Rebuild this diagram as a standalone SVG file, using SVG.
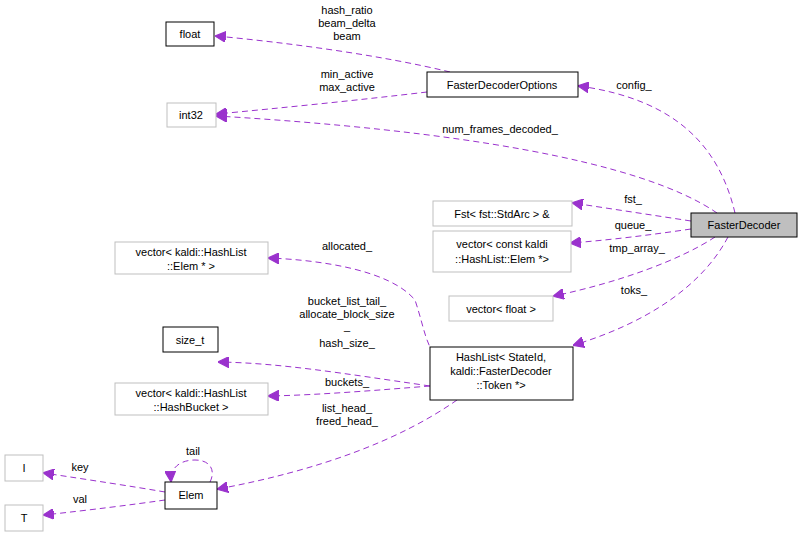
<svg xmlns="http://www.w3.org/2000/svg" width="799" height="536" viewBox="0 0 799 536">
<style>
text{font-family:"Liberation Sans",Arial,sans-serif;font-size:11px;fill:#000;text-anchor:middle}
.b{fill:#fff;stroke:#000;stroke-width:1}
.g{fill:#fff;stroke:#bfbfbf;stroke-width:1}
.e{fill:none;stroke:#9a32cd;stroke-width:1;stroke-dasharray:6,4}
</style>
<defs><marker id="a" viewBox="0 0 10 10" refX="9" refY="5" markerWidth="11" markerHeight="11" markerUnits="userSpaceOnUse" orient="auto"><path d="M0,0L10,5L0,10z" fill="#9a32cd" stroke="#9a32cd"/></marker></defs>
<rect width="799" height="536" fill="#fff"/>
<g id="edges">
<path class="e" marker-end="url(#a)" d="M450,72C380,55 290,43 216,36"/>
<text x="347" y="14">hash_ratio</text><text x="347" y="27">beam_delta</text><text x="347" y="40">beam</text>
<path class="e" marker-end="url(#a)" d="M427,92C360,100 280,108 217,114"/>
<text x="347" y="78">min_active</text><text x="347" y="91">max_active</text>
<path class="e" marker-end="url(#a)" d="M717,213C640,160 450,130 217,116"/>
<text x="500" y="133">num_frames_decoded_</text>
<path class="e" marker-end="url(#a)" d="M735,213C720,150 680,100 579,86"/>
<text x="634" y="89">config_</text>
<path class="e" marker-end="url(#a)" d="M691,221L573,203"/>
<text x="633" y="203">fst_</text>
<path class="e" marker-end="url(#a)" d="M691,229C650,235 610,240 571,243"/>
<text x="633" y="229">queue_</text>
<path class="e" marker-end="url(#a)" d="M715,237C680,260 620,282 554,296"/>
<text x="637" y="252">tmp_array_</text>
<path class="e" marker-end="url(#a)" d="M728,237C700,290 640,325 574,345"/>
<text x="634" y="294">toks_</text>
<path class="e" marker-end="url(#a)" d="M440,362C425,345 425,330 415,300C390,270 320,260 269,258"/>
<text x="347" y="250">allocated_</text>
<text x="347" y="305">bucket_list_tail_</text><text x="347" y="318">allocate_block_size</text><text x="347" y="330">_</text>
<path class="e" marker-end="url(#a)" d="M430,386C340,373 280,363 219,362"/>
<text x="347" y="347">hash_size_</text>
<path class="e" marker-end="url(#a)" d="M430,386C380,390 320,395 269,396"/>
<text x="347" y="386">buckets_</text>
<path class="e" marker-end="url(#a)" d="M457,400C400,440 320,470 218,489"/>
<text x="347" y="412">list_head_</text><text x="347" y="425">freed_head_</text>
<path class="e" marker-end="url(#a)" d="M210,482C216,470 210,460 195,460C180,460 170,468 171,481"/>
<text x="193" y="455">tail</text>
<path class="e" marker-end="url(#a)" d="M165,492C130,486 90,480 44,473"/>
<text x="80" y="471">key</text>
<path class="e" marker-end="url(#a)" d="M165,500C130,505 90,510 44,515"/>
<text x="80" y="503">val</text>
</g>
<g id="float"><rect class="b" x="166" y="22" width="48" height="24"/><text x="190" y="38">float</text></g>
<g id="int32"><rect class="g" x="167" y="103" width="49" height="24"/><text x="191" y="119">int32</text></g>
<g id="FasterDecoderOptions"><rect class="b" x="427" y="72" width="151" height="25"/><text x="502" y="89">FasterDecoderOptions</text></g>
<g id="FasterDecoder"><rect x="691" y="213" width="106" height="24" fill="#bfbfbf" stroke="#000"/><text x="744" y="229">FasterDecoder</text></g>
<g id="Fst"><rect class="g" x="433" y="201" width="139" height="25"/><text x="502" y="218">Fst&lt; fst::StdArc &gt; &amp;</text></g>
<g id="queue"><rect class="g" x="433" y="231" width="138" height="41"/><text x="502" y="248">vector&lt; const kaldi</text><text x="502" y="263">::HashList::Elem *&gt;</text></g>
<g id="vfloat"><rect class="g" x="449" y="296" width="104" height="25"/><text x="501" y="313">vector&lt; float &gt;</text></g>
<g id="velem"><rect class="g" x="115" y="242" width="153" height="32"/><text x="191" y="256">vector&lt; kaldi::HashList</text><text x="191" y="270">::Elem * &gt;</text></g>
<g id="size_t"><rect class="b" x="163" y="327" width="55" height="25"/><text x="190" y="344">size_t</text></g>
<g id="HashList"><rect class="b" x="430" y="347" width="143" height="53"/><text x="501" y="361">HashList&lt; StateId,</text><text x="501" y="375">kaldi::FasterDecoder</text><text x="501" y="389">::Token *&gt;</text></g>
<g id="vbucket"><rect class="g" x="115" y="383" width="153" height="32"/><text x="191" y="397">vector&lt; kaldi::HashList</text><text x="191" y="411">::HashBucket &gt;</text></g>
<g id="Elem"><rect class="b" x="165" y="482" width="52" height="27"/><text x="191" y="499">Elem</text></g>
<g id="I"><rect class="g" x="5" y="455" width="38" height="26"/><text x="24" y="472">I</text></g>
<g id="T"><rect class="g" x="5" y="505" width="38" height="26"/><text x="24" y="522">T</text></g>
</svg>
